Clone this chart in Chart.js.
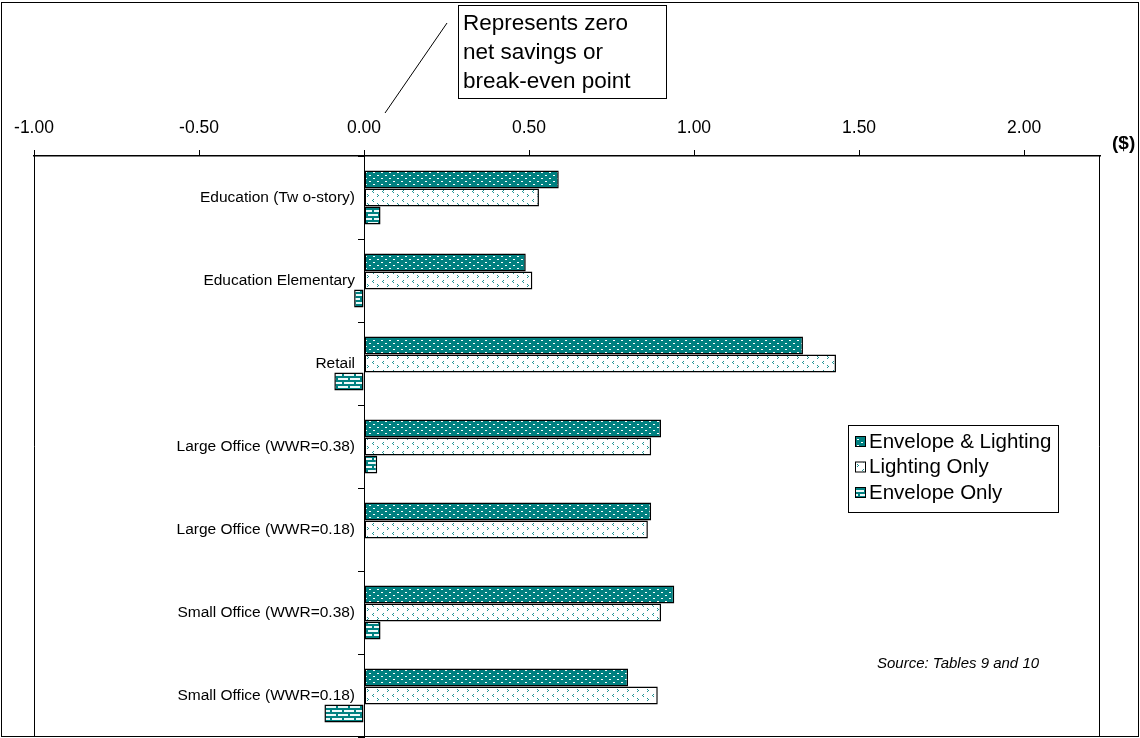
<!DOCTYPE html>
<html>
<head>
<meta charset="utf-8">
<script src="https://cdn.jsdelivr.net/npm/chart.js@4/dist/chart.umd.min.js"></script>
<style>
  html, body { margin: 0; padding: 0; background: #fff; }
  #wrap { position: relative; width: 1140px; height: 738px; }
</style>
</head>
<body>
<div id="wrap"><canvas id="c" width="1140" height="738"></canvas></div>
<script>
const categories = [
  'Education (Tw o-story)',
  'Education Elementary',
  'Retail',
  'Large Office (WWR=0.38)',
  'Large Office (WWR=0.18)',
  'Small Office (WWR=0.38)',
  'Small Office (WWR=0.18)'
];
const seriesNames = ['Envelope & Lighting', 'Lighting Only', 'Envelope Only'];
const envelopeLighting = [0.59, 0.49, 1.33, 0.90, 0.87, 0.94, 0.80];
const lightingOnly     = [0.53, 0.51, 1.43, 0.87, 0.86, 0.90, 0.89];
const envelopeOnly     = [0.05, -0.03, -0.09, 0.04, 0.00, 0.05, -0.12];
const xTickValues = [-1.0, -0.5, 0.0, 0.5, 1.0, 1.5, 2.0];
const xMin = -1.0;
const xMax = 2.23;
const unitLabel = '($)';
const calloutLines = ['Represents zero', 'net savings or', 'break-even point'];
const sourceNote = 'Source: Tables 9 and 10';

const TEAL = '#008080';
const FONT = '"Liberation Sans", Arial, sans-serif';
const Y_LABEL_GAP = 9;

function makePattern(w, h, draw) {
  const c = document.createElement('canvas');
  c.width = w; c.height = h;
  const g = c.getContext('2d');
  draw(g);
  return g.createPattern(c, 'repeat');
}
const patDots = makePattern(8, 6, g => {
  g.fillStyle = TEAL; g.fillRect(0, 0, 8, 6);
  g.fillStyle = '#ffffff';
  g.fillRect(1, 1, 2, 1);
  g.fillRect(5, 4, 2, 1);
});
const patChevron = makePattern(10, 9, g => {
  g.fillStyle = '#ffffff'; g.fillRect(0, 0, 10, 9);
  g.fillStyle = '#1f9494';
  g.fillRect(3, 1, 1, 1); g.fillRect(2, 2, 1, 1); g.fillRect(3, 3, 1, 1);
  g.fillRect(7, 5, 1, 1); g.fillRect(8, 6, 1, 1); g.fillRect(7, 7, 1, 1);
});
const patBrick = makePattern(12, 8, g => {
  g.fillStyle = '#eef9f9'; g.fillRect(0, 0, 12, 8);
  g.fillStyle = TEAL;
  g.fillRect(0, 0, 12, 2);
  g.fillRect(0, 4, 12, 2);
  g.fillRect(0, 0, 2, 4);
  g.fillRect(6, 4, 2, 4);
});

// shift the category labels left of the zero line (library-drawn)
const labelGapPlugin = {
  id: 'labelGap',
  afterLayout(chart) {
    const ys = chart.scales.y;
    if (ys._gapPatched) return;
    const orig = ys.drawLabels.bind(ys);
    ys.drawLabels = function (area) {
      const ctx = this.ctx;
      ctx.save();
      ctx.translate(-Y_LABEL_GAP, 0);
      orig(area);
      ctx.restore();
    };
    ys._gapPatched = true;
  }
};

const decorPlugin = {
  id: 'decor',
  afterDraw(chart) {
    const { ctx, chartArea } = chart;
    const xs = chart.scales.x;
    ctx.save();
    ctx.strokeStyle = '#000';
    ctx.lineWidth = 1;
    ctx.beginPath();
    ctx.moveTo(chartArea.left + 0.5, chartArea.top);
    ctx.lineTo(chartArea.left + 0.5, chartArea.bottom - 0.5);
    ctx.lineTo(chartArea.right - 0.5, chartArea.bottom - 0.5);
    ctx.lineTo(chartArea.right - 0.5, chartArea.top);
    ctx.stroke();
    ctx.strokeRect(1.5, 2.5, 1137, 734);
    ctx.fillStyle = '#000';
    ctx.font = 'bold 19px ' + FONT;
    ctx.textAlign = 'left';
    ctx.textBaseline = 'middle';
    ctx.fillText(unitLabel, 1112, 144);
    const zx = xs.getPixelForValue(0);
    ctx.beginPath();
    ctx.moveTo(zx + 21, 113);
    ctx.lineTo(zx + 83, 23);
    ctx.stroke();
    ctx.fillStyle = '#fff';
    ctx.fillRect(458.5, 5.5, 208, 93);
    ctx.strokeRect(458.5, 5.5, 208, 93);
    ctx.fillStyle = '#000';
    ctx.font = '22.5px ' + FONT;
    ctx.textBaseline = 'alphabetic';
    calloutLines.forEach((t, i) => ctx.fillText(t, 463, 30 + i * 29));
    ctx.font = 'italic 15px ' + FONT;
    ctx.fillText(sourceNote, 877, 668);
    const lx = 848.5, ly = 425.5, lw = 210, lh = 87;
    ctx.fillStyle = '#fff';
    ctx.fillRect(lx, ly, lw, lh);
    ctx.strokeStyle = '#000';
    ctx.strokeRect(lx, ly, lw, lh);
    ctx.font = '20.5px ' + FONT;
    ctx.textBaseline = 'middle';
    chart.data.datasets.forEach((ds, i) => {
      const cy = 441 + i * 25.5;
      ctx.fillStyle = ds.backgroundColor;
      ctx.fillRect(856, cy - 4, 9, 9);
      ctx.strokeStyle = '#000';
      ctx.lineWidth = 1;
      ctx.strokeRect(855.5, cy - 4.5, 10, 10);
      ctx.fillStyle = '#000';
      ctx.fillText(ds.label, 869, cy + 1);
    });
    ctx.restore();
  }
};

new Chart(document.getElementById('c'), {
  type: 'bar',
  data: {
    labels: categories,
    datasets: [
      { label: seriesNames[0], data: envelopeLighting, backgroundColor: patDots },
      { label: seriesNames[1], data: lightingOnly, backgroundColor: patChevron },
      { label: seriesNames[2], data: envelopeOnly, backgroundColor: patBrick }
    ]
  },
  options: {
    indexAxis: 'y',
    responsive: false,
    animation: false,
    devicePixelRatio: 1,
    layout: { padding: { left: 34, right: 40, top: 0, bottom: 1 } },
    datasets: {
      bar: {
        borderColor: '#000',
        borderWidth: 1.5,
        borderSkipped: false,
        barPercentage: 1.0,
        categoryPercentage: 0.65
      }
    },
    plugins: {
      legend: { display: false },
      tooltip: { enabled: false }
    },
    scales: {
      x: {
        type: 'linear',
        position: 'top',
        min: xMin,
        max: xMax,
        afterFit(scale) { scale.height = 156; scale.paddingLeft = 0; scale.paddingRight = 0; },
        afterBuildTicks(scale) { scale.ticks = xTickValues.map(v => ({ value: v })); },
        ticks: {
          color: '#000',
          font: { family: FONT, size: 17.5 },
          padding: 11,
          maxRotation: 0,
          callback: v => Number(v).toFixed(2)
        },
        grid: { drawOnChartArea: false, drawTicks: true, tickLength: 6, color: '#000', lineWidth: 1 },
        border: { display: true, color: '#000', width: 1.5 }
      },
      y: {
        type: 'category',
        position: { x: 0 },
        afterFit(scale) { scale.width = 0; scale.paddingTop = 0; scale.paddingBottom = 0; },
        ticks: {
          color: '#000',
          font: { family: FONT, size: 15.5 },
          padding: 9
        },
        grid: { drawOnChartArea: false, drawTicks: true, tickLength: 6, color: '#000', offset: true },
        border: { display: true, color: '#000', width: 1 }
      }
    }
  },
  plugins: [labelGapPlugin, decorPlugin]
});
</script>
</body>
</html>
